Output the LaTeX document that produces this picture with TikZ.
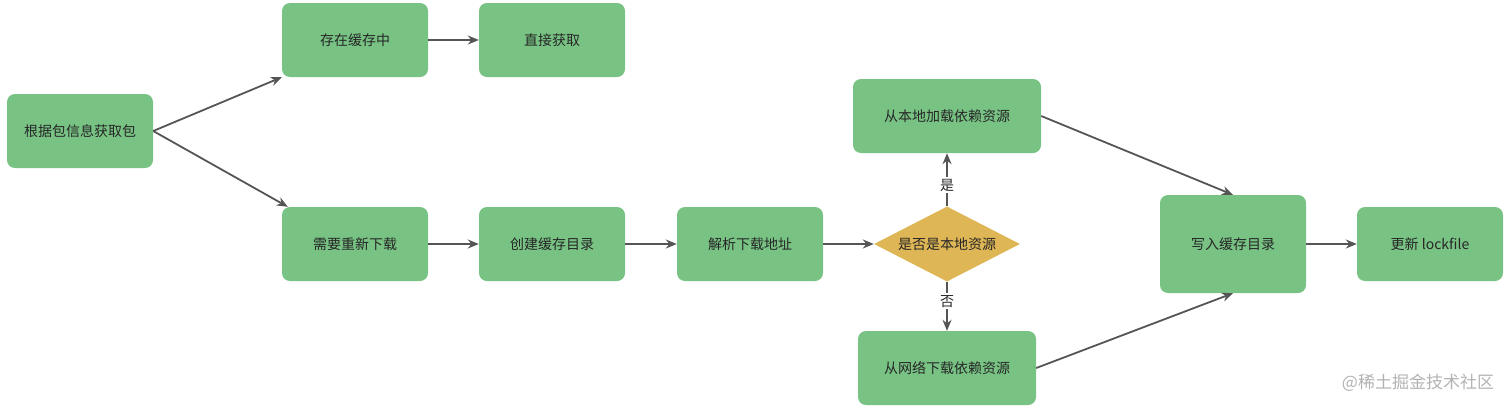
\documentclass[tikz,border=0pt]{standalone}
\usepackage{fontspec}
\newfontfamily\cjk{Noto Sans CJK SC}
\usetikzlibrary{shapes.geometric,arrows.meta}
\definecolor{boxgreen}{HTML}{78C384}
\definecolor{askgold}{HTML}{DFB655}
\definecolor{linegray}{HTML}{555555}
\tikzset{
    stepbox/.style={fill=boxgreen, rounded corners=8pt, minimum width=146pt, minimum height=74pt,
        inner sep=0pt, text=black!85, font=\cjk\fontsize{14}{16}\selectfont},
    askbox/.style={diamond, fill=askgold, shape aspect=2, minimum width=146pt, minimum height=75pt,
        inner sep=0pt, text=black!85, font=\cjk\fontsize{14}{16}\selectfont},
    flow/.style={draw=linegray, line width=1.8pt, -{Stealth[length=11pt,width=9pt]}},
    answer/.style={fill=white, inner sep=2pt, text=black!85, font=\cjk\fontsize{14}{16}\selectfont}
}
\begin{document}
\begin{tikzpicture}[x=1pt,y=-1pt]
            \useasboundingbox (0,0) rectangle (1512,408);
            \node[stepbox] (fetch) at (80,131) {根据包信息获取包};
            \node[stepbox] (cached) at (355,40) {存在缓存中};
            \node[stepbox] (direct) at (552,40) {直接获取};
            \node[stepbox] (download) at (355,244) {需要重新下载};
            \node[stepbox] (mkdir) at (552,244) {创建缓存目录};
            \node[stepbox] (resolve) at (750,244) {解析下载地址};
            \node[askbox] (islocal) at (947,244) {是否是本地资源};
            \node[stepbox, minimum width=188pt] (local) at (947,116) {从本地加载依赖资源};
            \node[stepbox, minimum width=178pt] (remote) at (947,368) {从网络下载依赖资源};
            \node[stepbox, minimum height=98pt] (write) at (1233,244) {写入缓存目录};
            \node[stepbox] (lock) at (1430,244) {更新 lockfile};
            \node[text=black!30, font=\cjk\fontsize{17}{19}\selectfont] (mark) at (1418,383) {@稀土掘金技术社区};

            \draw[flow] (fetch.east) -- (cached.south west);
            \draw[flow] (fetch.east) -- ([xshift=6pt]download.north west);
            \draw[flow] (cached) -- (direct);
            \draw[flow] (download) -- (mkdir);
            \draw[flow] (mkdir) -- (resolve);
            \draw[flow] (resolve) -- (islocal);
            \draw[flow] (islocal.north) -- node[answer, pos=0.4] {是} (local.south);
            \draw[flow] (islocal.south) -- node[answer, pos=0.4] {否} (remote.north);
            \draw[flow] (local.east) -- (write.north);
            \draw[flow] (remote.east) -- (write.south);
            \draw[flow] (write) -- (lock);
        \end{tikzpicture}
\end{document}
